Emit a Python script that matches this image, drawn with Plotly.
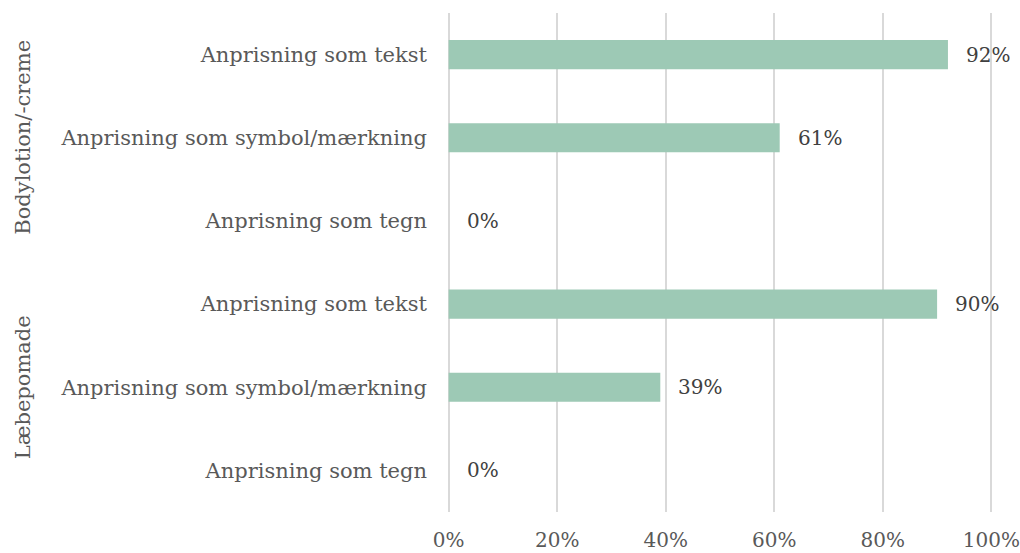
import plotly.graph_objects as go

# Product groups and the claim types measured for each
groups = ["Bodylotion/-creme", "Læbepomade"]
claim_types = ["Anprisning som tekst", "Anprisning som symbol/mærkning", "Anprisning som tegn"]

# Share of products per claim type
bodylotion_share = [0.92, 0.61, 0.00]
laebepomade_share = [0.90, 0.39, 0.00]

x_ticks = [0, 0.2, 0.4, 0.6, 0.8, 1.0]
x_tick_labels = ["0%", "20%", "40%", "60%", "80%", "100%"]

FONT = "DejaVu Serif"
TEXT_COLOR = "#595959"
BAR_COLOR = "#9dc9b5"
GRID_COLOR = "#d9d9d9"

values = bodylotion_share + laebepomade_share
labels = claim_types + claim_types
positions = list(range(len(values)))

# small padding so the 0% and 100% gridlines are not clipped at the edges
PAD = 0.003
plot_left, plot_right = 447, 993
W, H = 1020, 553

fig = go.Figure()
fig.add_trace(go.Bar(
    x=values,
    y=positions,
    orientation="h",
    marker=dict(color=BAR_COLOR, line=dict(width=0)),
    hoverinfo="skip",
))

# value labels placed just right of each bar end
for pos, val in zip(positions, values):
    fig.add_annotation(
        x=val, y=pos, xref="x", yref="y",
        text=f"{round(val * 100)}%",
        showarrow=False, xanchor="left", yanchor="middle",
        xshift=16,
        font=dict(family=FONT, size=20, color="#404040"),
    )

# rotated group labels on the far left
n = len(claim_types)
for gi, name in enumerate(groups):
    fig.add_annotation(
        x=(23 - plot_left) / (plot_right - plot_left), xref="x domain",
        y=gi * n + (n - 1) / 2, yref="y",
        text=name, showarrow=False, textangle=-90,
        xanchor="center", yanchor="middle",
        font=dict(family=FONT, size=21, color=TEXT_COLOR),
    )

fig.update_layout(
    width=W, height=H,
    margin=dict(l=plot_left, r=W - plot_right, t=13, b=41, autoexpand=False),
    paper_bgcolor="white", plot_bgcolor="white",
    bargap=0.65,
    showlegend=False,
    font=dict(family=FONT, size=21, color=TEXT_COLOR),
)
fig.update_xaxes(
    range=[-PAD, 1.0 + PAD], tickvals=x_ticks, ticktext=x_tick_labels,
    showgrid=True, gridcolor=GRID_COLOR, gridwidth=1.5,
    zeroline=False, showline=False, ticks="",
    automargin=False,
    ticklabelstandoff=14,
    tickfont=dict(family=FONT, size=20, color=TEXT_COLOR),
)
fig.update_yaxes(
    range=[len(values) - 0.5, -0.5],
    tickvals=positions, ticktext=labels,
    showgrid=False, zeroline=False, showline=False, ticks="",
    automargin=False,
    ticklabelstandoff=19,
    tickfont=dict(family=FONT, size=21, color=TEXT_COLOR),
)

fig.write_html("out.html")
